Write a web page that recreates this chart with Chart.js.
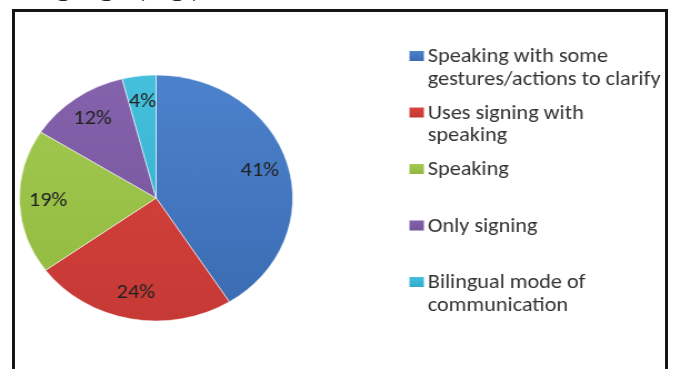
<!DOCTYPE html>
<html>
<head>
<meta charset="utf-8">
<script src="https://cdn.jsdelivr.net/npm/chart.js@4/dist/chart.umd.min.js"></script>
<style>
  html, body { margin: 0; padding: 0; background: #fff; }
  body { width: 680px; height: 369px; position: relative; overflow: hidden; }
  #caption {
    position: absolute; left: 19px; top: -30.5px;
    font-family: "Liberation Serif", serif; font-size: 30px; line-height: 30px;
    color: #222; white-space: nowrap;
  }
  #frame {
    position: absolute; left: 12px; top: 9px; width: 650px; height: 400px;
    border: 3px solid #161616; border-bottom: none;
  }
  #stretch {
    position: absolute; left: 0; top: 0; width: 612px; height: 369px;
    transform: scaleX(1.1111); transform-origin: 0 0;
  }
</style>
</head>
<body>
<div id="caption">language (Fig.)</div>
<div id="frame"></div>
<div id="stretch"><canvas id="pie" width="612" height="369"></canvas></div>
<script>
// Communication modes, share of respondents (%)
const categories = [
  ['Speaking with some', 'gestures/actions to clarify'],
  ['Uses signing with', 'speaking'],
  ['Speaking'],
  ['Only signing'],
  ['Bilingual mode of', 'communication']
];
const shares = [41, 24, 19, 12, 4];
const sliceTop = ['#4c82cc', '#da453e', '#a3ca50', '#8463ac', '#45c0dc'];
const sliceBottom = ['#3a6bb2', '#c63935', '#91b940', '#74539b', '#2eaacb'];

const textFont = '"Carlito", Lato, "Open Sans", sans-serif';

// soft top-to-bottom shading for each slice
function shaded(ctx) {
  const chart = ctx.chart;
  const area = chart.chartArea;
  const i = ctx.dataIndex;
  if (!area) return sliceTop[i];
  const g = chart.ctx.createLinearGradient(0, area.top, 0, area.bottom);
  g.addColorStop(0, sliceTop[i]);
  g.addColorStop(1, sliceBottom[i]);
  return g;
}

// percentage labels placed inside each slice
const sliceLabels = {
  id: 'sliceLabels',
  afterDatasetsDraw(chart) {
    const ctx = chart.ctx;
    const meta = chart.getDatasetMeta(0);
    ctx.save();
    ctx.font = '20px ' + textFont;
    ctx.fillStyle = '#222';
    ctx.textAlign = 'center';
    ctx.textBaseline = 'middle';
    meta.data.forEach((arc, i) => {
      const p = arc.getProps(['x', 'y', 'startAngle', 'endAngle', 'outerRadius'], true);
      const a = (p.startAngle + p.endAngle) / 2;
      const r = p.outerRadius * 0.79;
      ctx.fillText(chart.data.datasets[0].data[i] + '%', p.x + Math.cos(a) * r, p.y + Math.sin(a) * r);
    });
    ctx.restore();
  }
};

// legend to the right, one slot per category, wrapped lines
const sideLegend = {
  id: 'sideLegend',
  afterDraw(chart) {
    const ctx = chart.ctx;
    const x0 = 368.5, textX = 385, firstBase = 62, slot = 56.5, lineGap = 22.5;
    ctx.save();
    ctx.font = '20px ' + textFont;
    ctx.textBaseline = 'alphabetic';
    chart.data.labels.forEach((lines, i) => {
      const base = firstBase + i * slot;
      const g = ctx.createLinearGradient(0, base - 11, 0, base - 1);
      g.addColorStop(0, sliceTop[i]);
      g.addColorStop(1, sliceBottom[i]);
      ctx.fillStyle = g;
      ctx.fillRect(x0, base - 11, 13, 10);
      ctx.fillStyle = '#333';
      lines.forEach((line, j) => ctx.fillText(line, textX, base + j * lineGap));
    });
    ctx.restore();
  }
};

new Chart(document.getElementById('pie'), {
  type: 'pie',
  data: {
    labels: categories,
    datasets: [{
      data: shares,
      backgroundColor: shaded,
      borderColor: 'rgba(255,255,255,0.55)',
      borderWidth: 1,
      hoverOffset: 0
    }]
  },
  options: {
    responsive: false,
    animation: false,
    layout: { padding: { left: 17, top: 74, right: 348, bottom: 47 } },
    plugins: { legend: { display: false }, tooltip: { enabled: false } }
  },
  plugins: [sliceLabels, sideLegend]
});
</script>
</body>
</html>
